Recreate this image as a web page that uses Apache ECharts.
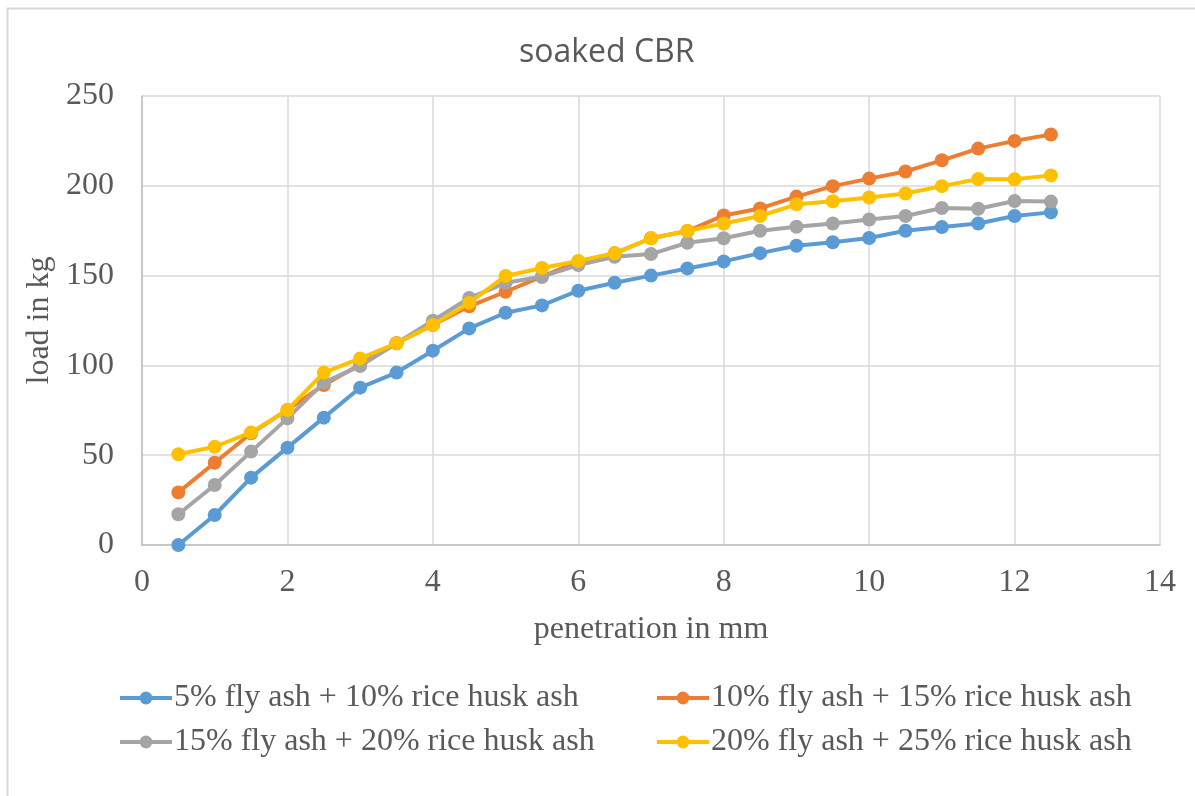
<!DOCTYPE html>
<html>
<head>
<meta charset="utf-8">
<script src="https://cdn.jsdelivr.net/npm/echarts@6/dist/echarts.min.js"></script>
<style>
html,body{margin:0;padding:0;background:#fff;}
#chart{width:1195px;height:796px;}
</style>
</head>
<body>
<div id="chart"></div>
<script>
const penetration = [0.5,1,1.5,2,2.5,3,3.5,4,4.5,5,5.5,6,6.5,7,7.5,8,8.5,9,9.5,10,10.5,11,11.5,12,12.5];
const seriesNames = [
  '5% fly ash + 10% rice husk ash',
  '10% fly ash + 15% rice husk ash',
  '15% fly ash + 20% rice husk ash',
  '20% fly ash + 25% rice husk ash'
];
const load5_10  = [0,16.7,37.5,54.2,70.9,87.6,96,108.2,120.6,129.3,133.4,141.6,146,150,154,157.9,162.5,166.6,168.6,170.9,175,177,179,183.2,185.2];
const load10_15 = [29.3,45.8,62.2,75.2,89.1,100.5,112.3,122.5,132.9,141,149.4,157.8,162.4,170.8,174.8,183.5,187.4,194,199.8,204,208,214.2,220.7,225,228.6];
const load15_20 = [17.1,33.4,52,70.5,90.4,99.7,112.3,124.9,137.5,146,149.4,155.9,160.5,162,168.3,170.8,175,177.2,179,181.2,183.2,187.6,187.2,191.5,191.2];
const load20_25 = [50.5,54.7,62.7,75.2,96,103.9,112.3,122.5,134.8,149.8,154.2,158.1,162.4,170.8,174.8,179,183.2,189.7,191.4,193.5,195.7,199.8,203.8,203.6,205.8];
const xTicks = {min:0, max:14, interval:2};
const yTicks = {min:0, max:250, interval:50};

const colors = ['#5B9BD5','#ED7D31','#A5A5A5','#FFC000'];
const allData = [load5_10, load10_15, load15_20, load20_25];
const serif = '"Liberation Serif","Times New Roman",serif';
const txtColor = '#595959';

const chart = echarts.init(document.getElementById('chart'), null, {renderer:'canvas'});
const legendPos = [[118,682],[655,682],[118,726],[655,726]];
chart.setOption({
  animation:false,
  backgroundColor:'#fff',
  color:colors,
  title:{
    text:'soaked CBR', left:519, top:37, padding:0,
    textStyle:{fontFamily:'"Open Sans",sans-serif', fontSize:32, fontWeight:'normal', color:txtColor}
  },
  graphic:[{type:'rect', shape:{x:7.5,y:8.5,width:1200,height:800}, style:{fill:'none',stroke:'#d9d9d9',lineWidth:2}, silent:true}],
  legend: seriesNames.map((n,i)=>({
    data:[n], left:legendPos[i][0], top:legendPos[i][1], itemWidth:52, itemHeight:16, itemGap:0, padding:0,
    lineStyle:{width:4},
    textStyle:{fontFamily:serif, fontSize:32, color:txtColor, padding:[0,0,0,-3]},
    selectedMode:false
  })),
  grid:{left:142, right:35, top:96, bottom:251, containLabel:false},
  xAxis:{
    type:'value', min:xTicks.min, max:xTicks.max, interval:xTicks.interval,
    name:'penetration in mm', nameLocation:'middle', nameGap:69,
    nameTextStyle:{fontFamily:serif, fontSize:32, color:txtColor},
    axisLine:{show:true, lineStyle:{color:'#bfbfbf', width:1.5}},
    axisTick:{show:false},
    axisLabel:{fontFamily:serif, fontSize:32, color:txtColor, margin:22},
    splitLine:{show:true, lineStyle:{color:'#d9d9d9', width:1.5}}
  },
  yAxis:{
    type:'value', min:yTicks.min, max:yTicks.max, interval:yTicks.interval,
    name:'load in kg', nameLocation:'middle', nameGap:86, nameRotate:90,
    nameTextStyle:{fontFamily:serif, fontSize:32, color:txtColor},
    axisLine:{show:true, lineStyle:{color:'#bfbfbf', width:1.5}},
    axisTick:{show:false},
    axisLabel:{fontFamily:serif, fontSize:32, color:txtColor, margin:28},
    splitLine:{show:true, lineStyle:{color:'#d9d9d9', width:1.5}}
  },
  series: seriesNames.map((n,i)=>({
    name:n, type:'line',
    data: penetration.map((x,j)=>[x, allData[i][j]]),
    symbol:'circle', symbolSize:14,
    lineStyle:{width:4, color:colors[i]},
    itemStyle:{color:colors[i]},
    z: 2+i
  }))
});
</script>
</body>
</html>
